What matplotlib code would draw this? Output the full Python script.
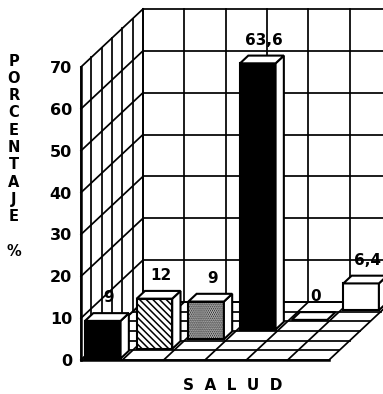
import matplotlib
matplotlib.use("Agg")
import matplotlib.pyplot as plt
from matplotlib.patches import Polygon

# --- data -------------------------------------------------------------
values = [9, 12, 9, 63.6, 0, 6.4]
value_labels = ["9", "12", "9", "63,6", "0", "6,4"]
y_ticks = [0, 10, 20, 30, 40, 50, 60, 70]
y_title = "PORCENTAJE"
y_unit = "%"
x_title = "SALUD"

# --- styles -----------------------------------------------------------
front_faces = [
    dict(facecolor="black", hatch=None),
    dict(facecolor="white", hatch="\\\\\\\\\\"),
    dict(facecolor="white", hatch="........"),
    dict(facecolor="black", hatch=None),
    dict(facecolor="white", hatch=None),
    dict(facecolor="white", hatch=None),
]

plt.rcParams["hatch.linewidth"] = 1.1
FONT = "DejaVu Sans"

W, H = 383, 394
fig = plt.figure(figsize=(W / 100, H / 100), dpi=100)
fig.patch.set_facecolor("white")
ax = fig.add_axes([81 / W, 34 / H, 248 / W, 293 / H])

N_COLS = 6
N_ROWS = 6
VMAX = y_ticks[-1]
# oblique depth offset per floor row, in data units
DU = 0.25
DV = 2.31


def P(u, w, v):
    """Project (column, depth row, value) to axes data coordinates."""
    return (u + DU * w, v + DV * w)


GRID_LW = 1.25
EDGE_LW = 1.8
BAR_LW = 1.5


def line(pts, lw=GRID_LW, z=2):
    xs, ys = zip(*pts)
    ax.plot(xs, ys, color="black", lw=lw, solid_capstyle="projecting",
            clip_on=False, zorder=z)


def face(pts, z=1, **kw):
    kw.setdefault("facecolor", "white")
    p = Polygon(pts, closed=True, edgecolor="black", lw=kw.pop("lw", 0),
                clip_on=False, zorder=z, joinstyle="miter", **kw)
    ax.add_patch(p)


# back wall
face([P(0, N_ROWS, 0), P(N_COLS, N_ROWS, 0), P(N_COLS, N_ROWS, VMAX), P(0, N_ROWS, VMAX)])
for c in range(N_COLS + 1):
    line([P(c, N_ROWS, 0), P(c, N_ROWS, VMAX)])
for t in y_ticks:
    line([P(0, N_ROWS, t), P(N_COLS, N_ROWS, t)])

# left wall
face([P(0, 0, 0), P(0, N_ROWS, 0), P(0, N_ROWS, VMAX), P(0, 0, VMAX)])
for r in range(N_ROWS + 1):
    line([P(0, r, 0), P(0, r, VMAX)])
for t in y_ticks:
    line([P(0, 0, t), P(0, N_ROWS, t)])
line([P(0, 0, 0), P(0, 0, VMAX)], lw=EDGE_LW)

# floor
face([P(0, 0, 0), P(N_COLS, 0, 0), P(N_COLS, N_ROWS, 0), P(0, N_ROWS, 0)])
for r in range(N_ROWS + 1):
    line([P(0, r, 0), P(N_COLS, r, 0)])
for c in range(N_COLS + 1):
    line([P(c, 0, 0), P(c, N_ROWS, 0)])
line([P(0, 0, 0), P(N_COLS, 0, 0)], lw=EDGE_LW)

# bars, staggered one floor row deeper per category; drawn back to front
for k in reversed(range(len(values))):
    h = values[k]
    u0, u1 = k + 0.06, k + 0.92
    w0, w1 = k + 0.15, k + 0.95
    z = 5
    if h > 0:
        style = front_faces[k]
        face([P(u0, w0, 0), P(u1, w0, 0), P(u1, w0, h), P(u0, w0, h)],
             z=z, lw=BAR_LW, facecolor=style["facecolor"], hatch=style["hatch"])
        face([P(u1, w0, 0), P(u1, w1, 0), P(u1, w1, h), P(u1, w0, h)],
             z=z, lw=BAR_LW)
    face([P(u0, w0, h), P(u1, w0, h), P(u1, w1, h), P(u0, w1, h)],
         z=z, lw=BAR_LW)
    uc = (u0 + u1) / 2
    wc = (w0 + w1) / 2
    ax.annotate(value_labels[k], xy=P(uc, wc, h), xytext=(1.5, 14),
                textcoords="offset points", ha="center", va="center",
                fontsize=11, fontweight="bold", family=FONT, zorder=10,
                annotation_clip=False)

# axes
ax.set_xlim(0, N_COLS)
ax.set_ylim(0, VMAX)
for s in ax.spines.values():
    s.set_visible(False)
ax.set_xticks([])
ax.set_yticks(y_ticks)
ax.set_yticklabels([str(t) for t in y_ticks], fontsize=11.5,
                   fontweight="bold", family=FONT)
ax.tick_params(axis="y", length=0, pad=6.5)
ax.patch.set_visible(False)

# stacked vertical title
for i, ch in enumerate(y_title):
    fig.text(14 / W, 1 - (61 + i * 17.3) / H, ch, ha="center", va="center",
             fontsize=10.5, fontweight="bold", family=FONT)
fig.text(14 / W, 1 - 252 / H, y_unit, ha="center", va="center",
         fontsize=10.5, fontweight="bold", family=FONT)

fig.text(233 / W, 1 - 386 / H, "  ".join(x_title), ha="center", va="center",
         fontsize=11, fontweight="bold", family=FONT)

fig.savefig("out.png", dpi=100, facecolor="white")
